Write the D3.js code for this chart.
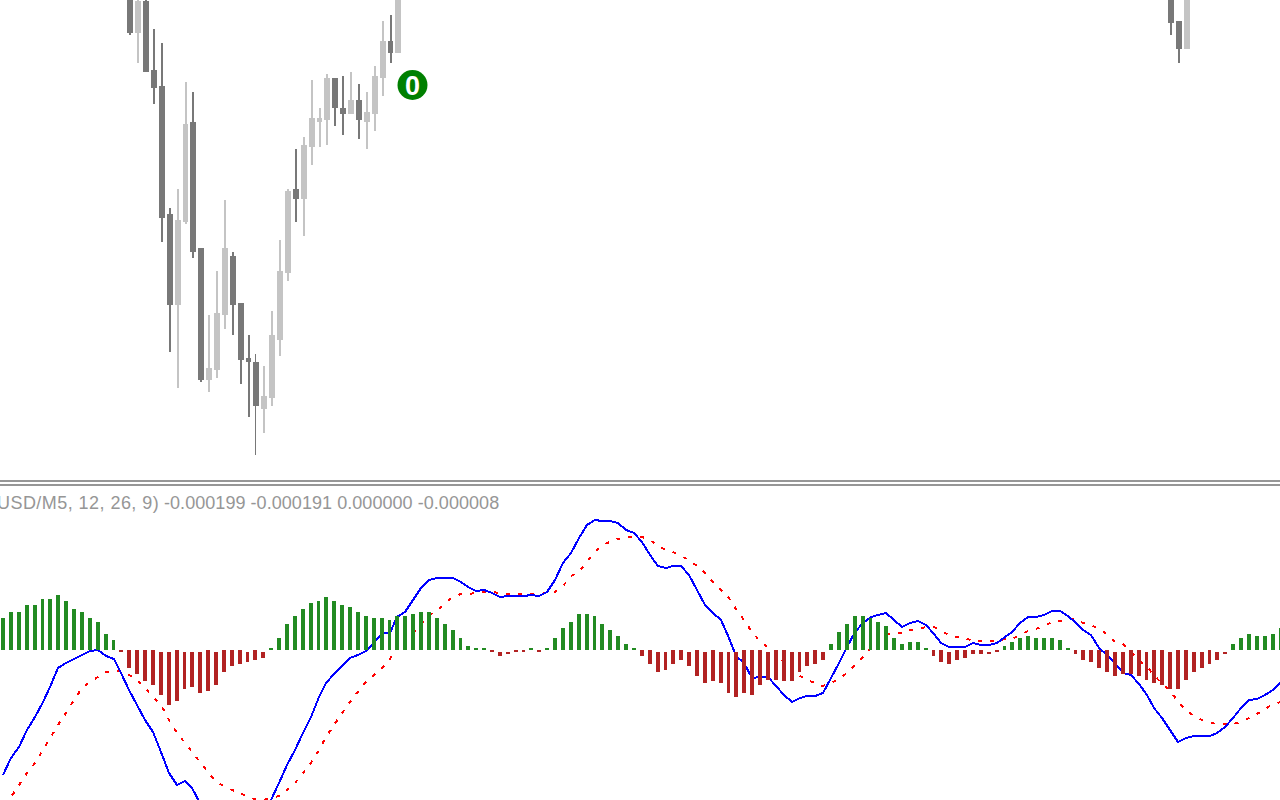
<!DOCTYPE html>
<html>
<head>
<meta charset="utf-8">
<style>
  html, body { margin: 0; padding: 0; background: #fff; overflow: hidden; }
  svg { display: block; }
</style>
<script src="https://cdn.jsdelivr.net/npm/d3@7"></script>
</head>
<body>
<div id="chart"></div>
<script>
// macd values are in millionths of a price unit
const macdLine = [-750,-648,-582,-480,-402,-312,-222,-108,-78,-54,
  -30,-6,0,-36,-54,-138,-240,-330,-420,-492,
  -612,-738,-810,-786,-828,-918,-990,-1050,-1092,-1110,
  -1110,-1068,-1008,-948,-900,-798,-690,-600,-498,-402,
  -282,-198,-144,-96,-48,-30,-6,42,102,102,
  198,228,300,372,420,432,432,432,408,378,
  354,360,342,318,324,324,324,330,324,348,
  420,522,582,672,750,780,774,774,762,720,
  702,648,570,504,492,504,504,450,360,270,
  222,180,72,-36,-78,-168,-162,-162,-216,-270,
  -312,-288,-276,-276,-258,-168,-78,18,108,162,
  198,210,222,180,138,162,174,150,96,42,
  18,18,18,42,30,30,42,78,108,162,
  198,198,210,234,234,204,162,120,90,12,
  -30,-78,-138,-150,-204,-270,-348,-408,-480,-552,
  -528,-516,-516,-516,-498,-462,-408,-348,-300,-294,
  -270,-240,-192];

const signalLine = [-918,-882,-810,-738,-678,-600,-528,-450,-378,-300,
  -228,-192,-162,-132,-126,-126,-150,-180,-228,-282,
  -330,-420,-498,-558,-612,-672,-732,-792,-816,-840,
  -858,-882,-894,-900,-888,-876,-840,-798,-738,-678,
  -600,-522,-450,-378,-312,-252,-192,-150,-108,-54,
  12,60,102,150,210,234,282,318,336,336,
  342,348,348,342,336,336,336,336,336,342,
  348,384,444,468,534,588,630,648,666,678,
  678,678,660,624,600,588,564,540,504,462,
  408,360,312,246,180,108,54,12,-12,-78,
  -114,-156,-180,-198,-216,-198,-174,-138,-90,-42,
  12,54,90,102,102,120,126,138,138,114,
  90,78,72,54,54,54,54,66,66,90,
  114,126,144,168,174,186,186,162,150,126,
  96,48,36,-12,-60,-102,-150,-204,-240,-312,
  -360,-396,-420,-438,-444,-444,-444,-432,-408,-384,
  -354,-324,-312];

const histogram = [192,228,228,270,270,306,306,330,294,246,
  228,192,168,96,60,-12,-108,-144,-186,-210,
  -270,-330,-306,-234,-222,-258,-246,-210,-132,-96,
  -84,-72,-60,-48,12,72,156,204,246,282,
  294,318,294,270,258,228,204,192,192,180,
  204,204,216,228,228,192,156,120,72,24,
  12,12,-12,-36,-24,-12,-12,12,-12,12,
  72,132,168,216,216,204,156,120,84,36,
  12,-36,-84,-132,-120,-84,-60,-96,-156,-198,
  -186,-198,-258,-282,-258,-270,-210,-180,-180,-186,
  -186,-132,-96,-84,-60,36,108,156,204,204,
  192,168,144,72,36,48,48,12,-36,-72,
  -84,-60,-48,-24,-24,-24,-12,24,48,72,
  84,72,72,72,60,12,-24,-60,-72,-108,
  -132,-156,-144,-144,-156,-180,-198,-210,-234,-234,
  -180,-132,-108,-84,-60,-24,36,72,96,84,
  84,96,132];

// red bars that leave a small gap under the zero line
const gappedBars = [20,21,23,24,25,27,31,33,63,64,83,84,87,89,91,92,93,97,
  100,101,102,104,120,125,141,142,145,148,151,152,154,155];

// candles, prices in points
const candleBars  = [16,17,18,19,20,21,22,23,24,25,26,27,28,29,30,31,32,33,34,35,36,37,38,39,40,41,42,43,44,45,46,47,48,49,50,148,149,150];
const candleOpen  = [505,467,499,430,414,286,195,278,378,252,120,130,185,244,197,142,138,91,102,160,227,311,301,353,378,380,422,392,386,400,378,386,422,459,447,505,479,451];
const candleHigh  = [505,505,505,471,457,292,311,418,408,252,185,229,300,248,197,165,146,134,189,260,311,351,363,420,392,426,422,424,428,416,408,434,479,485,510,510,479,510];
const candleLow   = [465,437,428,396,258,148,112,276,242,118,108,122,171,165,116,83,45,67,94,144,219,278,264,335,353,355,374,365,386,361,351,369,404,437,447,465,437,451];
const candleClose = [467,499,428,412,282,195,280,376,248,120,132,187,252,195,140,138,94,104,165,229,309,301,355,382,382,422,392,386,400,380,388,424,459,447,505,477,451,505];
const thinWicks = [32];

const legendName = "USD/M5, 12, 26, 9)";
const legendValues = "-0.000199 -0.000191 0.000000 -0.000008";

const width = 1280, height = 800;

const svg = d3.select("#chart").append("svg")
  .attr("width", width)
  .attr("height", height)
  .style("font-family", "'Liberation Sans', Arial, sans-serif");

const x = d3.scaleLinear().domain([0, 162]).range([1.68, 1279.05]);
const left = (i) => Math.floor(x(i));
const priceY = d3.scaleLinear().domain([0, 500]).range([500, 0]);
const macdY = d3.scaleLinear().domain([-1020, 1020]).range([820, 480]);

// price pane
const candles = candleBars.map((bar, k) => ({
  bar,
  open: candleOpen[k],
  high: candleHigh[k],
  low: candleLow[k],
  close: candleClose[k],
}));
const candleColor = (d) => (d.close > d.open ? "#c4c4c4" : "#787878");

const candleG = svg.append("g").attr("shape-rendering", "crispEdges");
candleG.selectAll("rect.wick")
  .data(candles)
  .enter()
  .append("rect")
  .attr("class", "wick")
  .attr("x", (d) => left(d.bar) + 2)
  .attr("y", (d) => priceY(d.high))
  .attr("width", (d) => (thinWicks.includes(d.bar) ? 1 : 2))
  .attr("height", (d) => priceY(d.low) - priceY(d.high))
  .attr("fill", candleColor);
candleG.selectAll("rect.body")
  .data(candles)
  .enter()
  .append("rect")
  .attr("class", "body")
  .attr("x", (d) => left(d.bar))
  .attr("y", (d) => priceY(Math.max(d.open, d.close)))
  .attr("width", (d) => left(d.bar + 1) - left(d.bar) - 2)
  .attr("height", (d) => Math.abs(priceY(d.open) - priceY(d.close)))
  .attr("fill", candleColor);

// trade marker
const marker = svg.append("g").attr("transform", "translate(412.5,85)");
marker.append("circle").attr("r", 15).attr("fill", "#008000");
marker.append("text")
  .attr("text-anchor", "middle")
  .attr("y", 9.5)
  .attr("font-size", 27)
  .attr("font-weight", "bold")
  .attr("fill", "#fff")
  .text("0");

// pane separator
svg.append("g").attr("shape-rendering", "crispEdges")
  .selectAll("rect")
  .data([480, 484])
  .enter()
  .append("rect")
  .attr("x", 0)
  .attr("y", (d) => d)
  .attr("width", width)
  .attr("height", 2)
  .attr("fill", "#969696");

svg.append("text")
  .attr("x", -3)
  .attr("y", 509)
  .attr("font-size", 18)
  .attr("letter-spacing", 0.45)
  .attr("fill", "#969696")
  .text(legendName);
svg.append("text")
  .attr("x", 164)
  .attr("y", 509)
  .attr("font-size", 18)
  .attr("letter-spacing", 0.05)
  .attr("fill", "#969696")
  .text(legendValues);

// macd pane
const line = d3.line()
  .x((d, i) => left(i) + 2)
  .y((d) => macdY(d));

svg.append("path")
  .attr("d", line(signalLine))
  .attr("fill", "none")
  .attr("stroke", "#ff0000")
  .attr("stroke-width", 2)
  .attr("stroke-dasharray", "4 8")
  .attr("shape-rendering", "crispEdges");
svg.append("path")
  .attr("d", line(macdLine))
  .attr("fill", "none")
  .attr("stroke", "#0000ff")
  .attr("stroke-width", 2)
  .attr("shape-rendering", "crispEdges");

svg.append("g").attr("shape-rendering", "crispEdges")
  .selectAll("rect")
  .data(histogram)
  .enter()
  .append("rect")
  .attr("x", (d, i) => left(i))
  .attr("y", (d, i) => (d > 0 ? macdY(d) : macdY(gappedBars.includes(i) ? -12 : 0)))
  .attr("width", (d, i) => left(i + 1) - left(i) - 4)
  .attr("height", (d, i) =>
    d > 0 ? macdY(0) - macdY(d) : macdY(d) - macdY(gappedBars.includes(i) ? -12 : 0))
  .attr("fill", (d) => (d > 0 ? "#228b22" : "#b22222"));
</script>
</body>
</html>
